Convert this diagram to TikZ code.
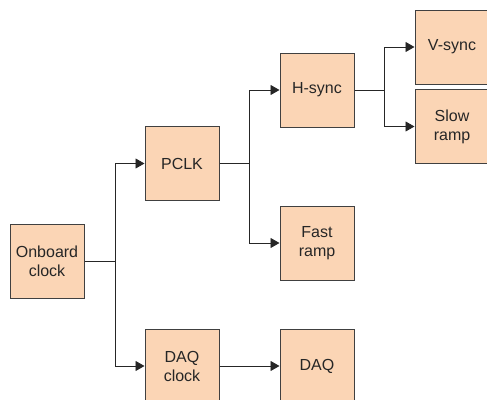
\documentclass[tikz,border=0pt]{standalone}
\usepackage{fontspec}
\setmainfont{Liberation Sans}
\usetikzlibrary{positioning,arrows.meta}

\definecolor{boxfill}{HTML}{FBD5B5}
\definecolor{boxline}{HTML}{404040}

\tikzset{
	block/.style={draw=boxline, fill=boxfill, line width=1pt, minimum width=74pt,
		minimum height=74pt, inner sep=0pt, align=center,
		font=\fontsize{16}{19}\selectfont, text=black!85},
	wire/.style={draw=black!85, line width=0.9pt},
	feed/.style={wire, -{Triangle[length=9pt,width=10pt]}},
}

\begin{document}
\begin{tikzpicture}[x=1pt,y=-1pt]
		\useasboundingbox (0,0) rectangle (487,399);
		
			\node[block] (clk) at (47,261.5) {Onboard\\clock};
			\node[block] (pclk) at (182,163.5) {PCLK};
			\node[block] (daqclk) at (182,366) {DAQ\\clock};
			\node[block] (hsync) at (317,90) {H-sync};
			\node[block] (fast) at (317,243) {Fast\\ramp};
			\node[block] (daq) at (317,366) {DAQ};
			\node[block] (vsync) at (452,47) {V-sync};
			\node[block] (slow) at (452,126.5) {Slow\\ramp};
		
			\coordinate (split1) at (115,261.5);
			\coordinate (split2) at (249,163.5);
			\coordinate (split3) at (384,90);
		
			\draw[wire] (clk) -- (split1);
			\draw[feed] (split1) |- (pclk);
			\draw[feed] (split1) |- (daqclk);
			\draw[wire] (pclk) -- (split2);
			\draw[feed] (split2) |- (hsync);
			\draw[feed] (split2) |- (fast);
			\draw[feed] (daqclk) -- (daq);
			\draw[wire] (hsync) -- (split3);
			\draw[feed] (split3) |- (vsync);
			\draw[feed] (split3) |- (slow);
				
	\end{tikzpicture}
\end{document}
